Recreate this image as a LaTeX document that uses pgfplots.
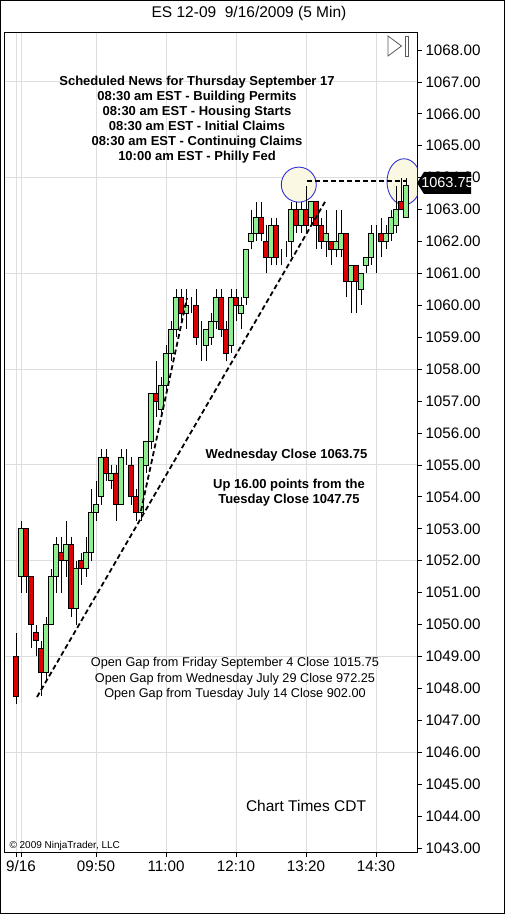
\documentclass[border=0pt]{standalone}
\usepackage{fontspec}
\setmainfont{Liberation Sans}
\usepackage{pgfplots}
\usepackage{pgfplotstable}
\pgfplotsset{compat=1.18}
\definecolor{cgreen}{RGB}{144,238,144}
\definecolor{cred}{RGB}{222,0,0}
\definecolor{gridgray}{RGB}{222,222,222}
\definecolor{circfill}{RGB}{250,248,226}
\definecolor{circblue}{RGB}{50,50,220}

\pgfplotstableread{
k o h l c
0 1049.00 1049.75 1047.50 1047.75
1 1051.50 1053.25 1051.00 1053.00
2 1053.00 1053.00 1051.00 1051.50
3 1051.50 1051.50 1049.25 1050.00
4 1049.75 1050.00 1049.00 1049.50
5 1049.25 1049.50 1047.75 1048.50
6 1048.50 1050.25 1048.25 1050.00
7 1050.00 1051.75 1050.00 1051.50
8 1051.50 1052.75 1051.00 1052.50
9 1052.25 1052.75 1051.00 1052.00
10 1052.00 1053.25 1051.50 1052.50
11 1052.50 1052.75 1050.25 1050.50
12 1050.50 1052.00 1050.00 1051.75
13 1052.00 1052.25 1051.25 1051.75
14 1051.75 1052.75 1051.50 1052.25
15 1052.25 1054.25 1052.00 1053.50
16 1053.50 1054.50 1053.25 1053.75
17 1054.00 1055.50 1053.75 1055.25
18 1055.25 1055.50 1054.50 1054.75
19 1054.50 1055.00 1054.25 1054.75
20 1054.75 1055.00 1053.25 1053.75
21 1053.75 1055.50 1053.75 1055.25
22 1055.25 1055.50 1055.00 1055.25
23 1055.00 1055.25 1053.75 1054.00
24 1054.00 1054.25 1053.25 1053.50
25 1053.50 1055.25 1053.25 1055.25
26 1055.00 1055.75 1054.75 1055.75
27 1055.75 1057.25 1055.50 1057.25
28 1057.25 1058.25 1056.50 1057.00
29 1056.75 1057.75 1056.50 1057.50
30 1057.50 1058.75 1057.25 1058.50
31 1058.50 1059.50 1058.25 1059.25
32 1059.25 1060.50 1059.00 1060.25
33 1060.25 1060.50 1059.50 1059.75
34 1059.75 1060.50 1059.25 1060.00
35 1060.00 1060.25 1059.75 1060.00
36 1060.00 1060.50 1058.75 1059.00
37 1059.00 1059.50 1058.25 1059.00
38 1058.75 1059.25 1058.25 1059.25
39 1059.00 1059.75 1058.75 1059.50
40 1059.50 1060.50 1059.25 1060.25
41 1060.25 1060.50 1059.00 1059.25
42 1059.25 1059.50 1058.25 1058.50
43 1058.75 1060.50 1058.50 1060.25
44 1060.25 1060.50 1059.50 1060.00
45 1059.75 1060.25 1059.25 1060.00
46 1060.25 1061.75 1060.00 1061.75
47 1062.00 1063.00 1061.75 1062.25
48 1062.25 1063.25 1062.00 1062.75
49 1062.75 1063.25 1062.00 1062.25
50 1062.00 1062.50 1061.00 1061.50
51 1061.50 1062.75 1061.25 1062.50
52 1062.50 1062.75 1061.25 1061.50
53 1061.50 1061.75 1061.25 1061.50
54 1061.75 1062.00 1061.50 1061.75
55 1062.00 1063.25 1061.50 1063.00
56 1063.00 1063.25 1062.25 1062.50
57 1062.50 1063.25 1062.25 1063.00
58 1063.00 1063.75 1062.25 1062.50
59 1062.75 1063.25 1062.50 1063.25
60 1063.25 1063.25 1061.75 1062.50
61 1062.50 1062.75 1061.75 1062.00
62 1062.00 1063.00 1061.50 1062.25
63 1062.00 1062.00 1061.25 1061.75
64 1061.75 1063.00 1061.50 1062.00
65 1061.75 1063.00 1061.50 1062.25
66 1062.25 1062.25 1060.25 1060.75
67 1060.75 1061.25 1059.75 1061.25
68 1061.25 1061.25 1059.75 1060.75
69 1060.50 1061.00 1060.00 1061.00
70 1061.25 1061.50 1061.00 1061.50
71 1061.50 1062.50 1061.25 1062.25
72 1062.25 1062.50 1061.00 1062.25
73 1062.25 1062.75 1061.50 1062.00
74 1062.00 1062.50 1061.75 1062.25
75 1062.25 1063.00 1062.00 1062.75
76 1062.50 1063.75 1062.25 1063.00
77 1063.25 1064.00 1063.00 1063.00
78 1062.75 1064.00 1062.75 1063.75
}\candles

\pgfplotsset{
  candleaxis/.style={
    width=412pt, height=819pt, scale only axis,
    xmin=-2.2, xmax=80.2, ymin=1042.875, ymax=1068.53,
  }
}

\begin{document}
\begin{tikzpicture}[x=1pt,y=1pt]
% axis 1: frame, grid, ticks, circles, wicks
\begin{axis}[candleaxis,
  axis line style={black, line width=1pt},
  xtick={0,1,16,30,44,58,72},
  xticklabels={{},9/16,09:50,11:00,12:10,13:20,14:30},
  xmajorgrids,
  major grid style={gridgray, line width=0.9pt},
  ytick={1043,1044,...,1068},
  yticklabel pos=right,
  ytick pos=right,
  xtick pos=bottom,
  tick align=outside,
  major tick length=5pt,
  tick style={black, line width=0.8pt},
  tick label style={font=\fontsize{15.2}{17}\selectfont},
  y tick label style={/pgf/number format/.cd, fixed, fixed zerofill, precision=2, 1000 sep={}, assume math mode=true},
  extra y ticks={1046,1049,1052,1055,1058,1061,1064,1067},
  extra y tick labels={},
  extra y tick style={grid=major, major tick length=0pt},
]
\draw[circblue, fill=circfill, line width=0.9pt] (axis cs:56.56,1063.78) circle[radius=17.5pt];
\draw[circblue, fill=circfill, line width=0.9pt] (axis cs:77.6,1063.87) ellipse[x radius=17pt, y radius=23pt];
\addplot[black, line width=0.9pt, no markers, quiver={u=0, v=\thisrow{h}-\thisrow{l}}, -] table[x=k, y=l] {\candles};
\end{axis}
% axis 2: bodies
\begin{axis}[candleaxis, hide axis, ybar stacked, bar width=4.4pt]
\addplot[draw=none, fill=none] table[x=k, y expr={min(\thisrow{o},\thisrow{c})}] {\candles};
\addplot[fill=cgreen, draw=black, line width=0.8pt] table[x=k, y expr={max(\thisrow{c}-\thisrow{o},0)}] {\candles};
\addplot[fill=cred, draw=black, line width=0.8pt] table[x=k, y expr={max(\thisrow{o}-\thisrow{c},0)}] {\candles};
\end{axis}
% axis 3: dashed lines
\begin{axis}[candleaxis, hide axis]
\addplot[black, line width=1.8pt, dash pattern=on 5pt off 3pt, no markers] coordinates {(4.2,1047.73) (61.8,1063.24)};
\addplot[black, line width=1.8pt, dash pattern=on 5pt off 3pt, no markers] coordinates {(25,1053.56) (34.2,1060.23)};
\addplot[black, line width=1.8pt, dash pattern=on 5pt off 3pt, no markers] coordinates {(58.2,1063.9) (78.2,1063.9)};
\end{axis}
\begin{scope}[shift={(-5pt,-62pt)}]
\path[use as bounding box] (0,0) rectangle (505,914);
\draw[black, line width=1pt] (0.5,0.5) rectangle (504.5,913.5);
% price label
\fill[black] (417,731) -- (424,742) -- (471,742) -- (471,720) -- (424,720) -- cycle;
\node[white, font=\fontsize{14.5}{16}\selectfont] at (447.5,731) {1063.75};
% replay icon
\draw[gray!70!black, line width=0.8pt] (388,878) -- (388,858) -- (401.5,868) -- cycle;
\draw[gray!70!black, line width=0.8pt] (405,878) rectangle (408.5,858);
% title
\node[font=\fontsize{15.5}{17}\selectfont] at (249,901) {ES 12-09\ \ 9/16/2009 (5 Min)};
% news
\node[font=\bfseries\fontsize{13}{15}\selectfont, align=center] at (197,794.5) {Scheduled News for Thursday September 17\\08:30 am EST - Building Permits\\08:30 am EST - Housing Starts\\08:30 am EST - Initial Claims\\08:30 am EST - Continuing Claims\\10:00 am EST - Philly Fed};
\node[font=\bfseries\fontsize{13}{15}\selectfont] at (286.5,459) {Wednesday Close 1063.75};
\node[font=\bfseries\fontsize{13}{15}\selectfont, align=center] at (289,421) {Up 16.00 points from the\\Tuesday Close 1047.75};
\node[font=\fontsize{12.7}{15.5}\selectfont, align=center] at (235,235) {Open Gap from Friday September 4 Close 1015.75\\Open Gap from Wednesday July 29 Close 972.25\\Open Gap from Tuesday July 14 Close 902.00};
\node[font=\fontsize{15.5}{17}\selectfont] at (306,108) {Chart Times CDT};
\node[font=\fontsize{10}{12}\selectfont, anchor=west] at (6,68) {\textcopyright\ 2009 NinjaTrader, LLC};
\end{scope}
\end{tikzpicture}
\end{document}
